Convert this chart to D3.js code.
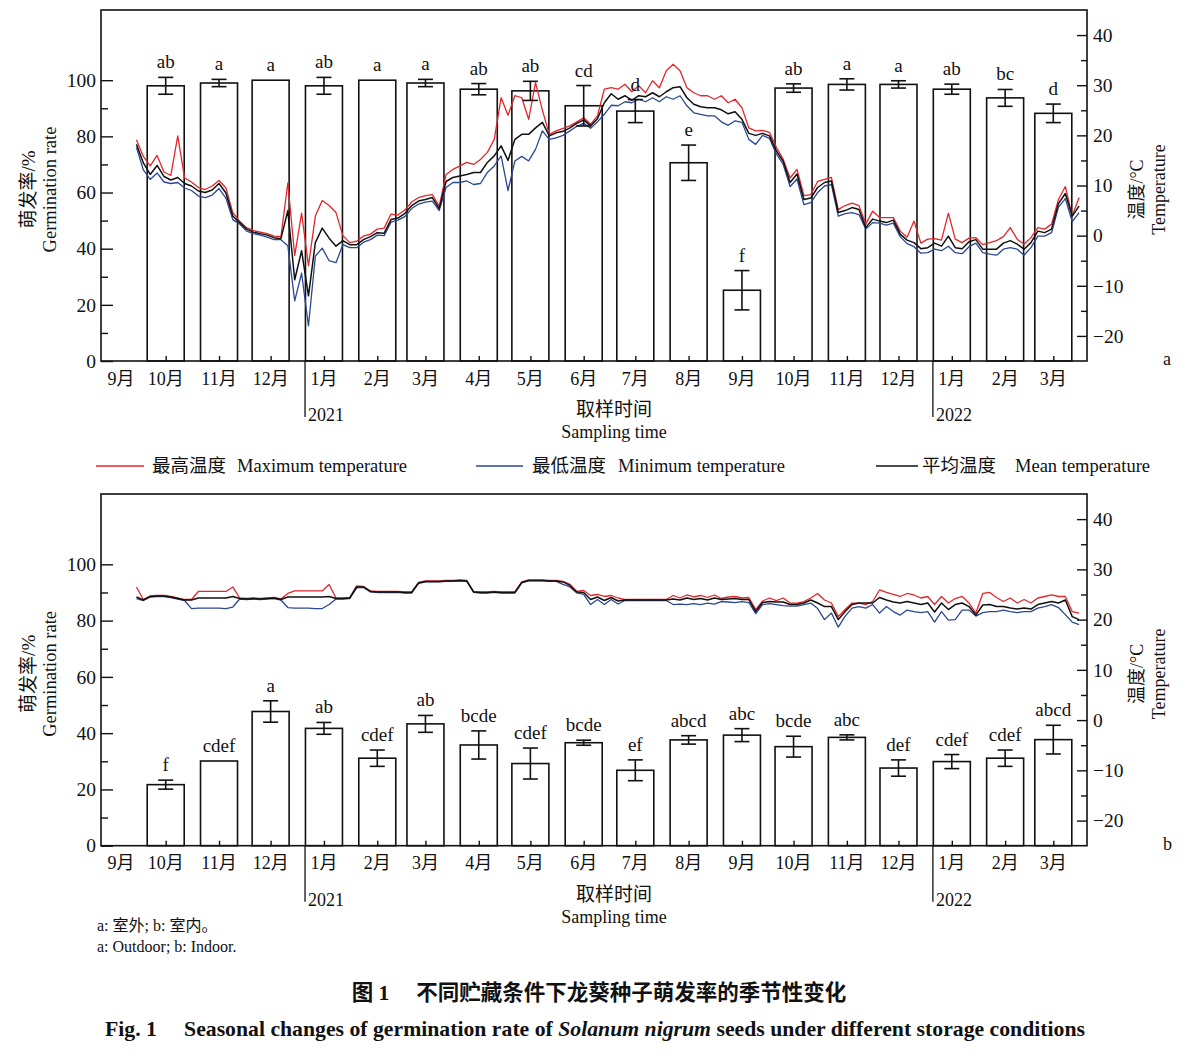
<!DOCTYPE html>
<html><head><meta charset="utf-8">
<script src="https://cdn.jsdelivr.net/npm/d3@7"></script>
<style>
body{margin:0;background:#fff}
svg text{font-family:"Liberation Serif","Times New Roman","Noto Sans CJK SC",serif;fill:#111}
</style>
</head><body>
<svg id="c" width="1194" height="1059"></svg>
<script>
// ---------------- data ----------------
const monthLabels = ["9月","10月","11月","12月","1月","2月","3月","4月","5月","6月","7月","8月","9月","10月","11月","12月","1月","2月","3月"];
const monthDates = ["2020-09-12","2020-10-12","2020-11-12","2020-12-12","2021-01-12","2021-02-12","2021-03-12","2021-04-12","2021-05-12","2021-06-12","2021-07-12","2021-08-12","2021-09-12","2021-10-12","2021-11-12","2021-12-12","2022-01-12","2022-02-12","2022-03-12"];
const sampleDates = monthDates.slice(1);

const outdoorMeans = [98.0,99.0,100,98.0,100,99.0,96.8,96.2,90.9,89.0,70.6,25.2,97.2,98.5,98.5,96.8,93.7,88.2];
const outdoorErr   = [3.0,1.3,0,3.0,0,1.3,2.0,3.4,7.2,4.1,6.3,7.0,1.5,2.0,1.3,1.8,3.0,3.3];
const outdoorLetters = ["ab","a","a","ab","a","a","ab","ab","cd","d","e","f","ab","a","a","ab","bc","d"];

const indoorMeans = [21.7,30.1,47.7,41.7,31.1,43.3,35.8,29.2,36.6,26.8,37.6,39.3,35.2,38.5,27.6,29.9,31.1,37.7];
const indoorErr   = [1.6,0,3.8,2.1,2.9,3.0,5.0,5.5,0.9,3.7,1.5,2.3,3.7,0.9,2.9,2.5,2.9,5.1];
const indoorLetters = ["f","cdef","a","ab","cdef","ab","bcde","cdef","bcde","ef","abcd","abc","bcde","abc","def","cdef","cdef","abcd"];

// temperature records: one value every 4 days from 2020-09-25
const tempStart = "2020-09-25";
const tempStepDays = 4;
const outdoorMax = [19.1,15.8,13.9,16.0,12.7,12.0,19.9,11.5,10.7,9.6,9.2,9.9,11.0,9.5,4.6,2.9,1.6,1.0,0.7,0.4,
 -0.1,-0.2,10.5,-4.0,4.5,-6.0,3.9,7.0,6.0,4.6,0.0,-1.4,-1.1,-0.1,0.3,1.3,1.5,4.3,4.1,5.1,
 6.7,7.6,8.0,8.2,5.9,12.2,13.2,13.9,14.6,14.2,15.2,16.6,19.2,27.5,24.0,27.9,27.5,23.2,30.5,25.0,
 20.2,20.9,21.4,21.9,22.7,23.5,22.2,23.9,29.2,29.5,29.2,30.2,28.7,29.9,28.5,30.9,29.5,32.9,34.2,32.9,
 29.5,28.5,27.9,27.9,27.2,27.9,26.5,27.2,25.5,21.5,20.9,21.0,20.6,17.6,15.2,11.5,13.2,8.0,8.2,10.8,
 11.2,11.6,5.2,6.0,6.5,6.0,2.3,4.9,3.6,3.6,3.6,0.9,-0.3,2.9,-1.5,-0.7,-0.6,-0.9,4.5,-0.7,
 -1.4,-0.5,-0.4,-1.8,-1.4,-1.0,-0.2,1.6,-0.7,-1.7,-0.4,1.6,1.3,2.3,7.2,9.8,3.9,7.6];
const outdoorMean = [18.2,14.5,12.2,14.0,11.8,11.1,11.6,10.4,9.9,8.9,8.6,9.1,10.4,8.5,3.9,2.6,1.3,0.7,0.4,0.1,
 -0.4,-0.6,5.0,-8.8,-3.0,-12.0,-1.4,1.5,-0.5,-2.1,-1.0,-1.8,-1.8,-0.8,-0.2,0.6,0.5,3.2,3.5,4.4,
 6.0,6.9,7.2,7.6,5.4,10.8,11.6,11.9,12.2,12.6,12.6,14.6,15.9,17.9,15.0,19.2,20.2,20.2,21.5,22.6,
 19.9,20.5,20.8,21.5,22.4,23.1,21.9,23.3,26.5,28.3,27.2,27.9,27.0,27.9,27.7,28.5,27.7,28.7,29.5,29.7,
 27.5,26.2,25.7,25.5,25.5,25.1,24.3,24.7,23.2,20.4,20.0,20.4,19.9,16.9,14.8,10.6,12.3,7.2,7.5,9.6,
 10.6,10.9,4.6,5.0,5.6,5.2,1.6,3.3,2.9,2.6,3.1,0.3,-0.9,-1.4,-2.6,-2.4,-1.5,-2.1,-0.1,-2.4,
 -2.6,-1.2,-0.8,-2.7,-2.7,-2.7,-1.5,-1.0,-1.7,-2.7,-1.4,0.9,0.6,1.3,6.4,8.4,3.9,5.9];
const outdoorMin = [17.6,13.1,11.2,12.5,10.7,10.4,10.6,9.5,9.0,7.9,7.6,8.1,9.4,7.5,3.2,2.3,0.9,0.4,0.1,-0.3,
 -0.8,-0.8,-2.0,-13.0,-7.5,-18.0,-4.1,-2.5,-5.0,-5.4,-1.8,-2.4,-2.4,-1.3,-0.8,0.1,0.0,2.7,3.1,3.8,
 5.4,6.3,6.7,6.9,5.0,9.6,10.6,10.6,10.9,10.2,10.4,12.6,13.9,15.9,9.0,14.9,15.8,14.9,17.2,20.9,
 19.2,19.5,20.0,20.9,21.8,22.4,21.4,22.7,24.2,26.0,25.9,26.7,26.5,27.2,26.7,27.5,26.7,27.7,27.2,27.9,
 25.9,24.5,24.2,23.9,23.9,22.7,22.0,22.9,22.6,19.2,18.2,20.0,19.4,16.3,14.2,9.8,11.3,6.2,6.6,8.6,
 9.9,10.2,3.9,4.4,4.6,4.2,1.3,2.6,2.5,2.1,2.5,-0.2,-1.6,-2.2,-3.5,-3.4,-2.7,-3.0,-2.1,-3.4,
 -3.6,-2.2,-1.5,-3.4,-3.7,-3.9,-2.7,-2.4,-2.7,-3.9,-2.4,-0.1,-0.1,0.6,5.7,7.4,2.8,4.6];

const indoorMax = [26.5,24.0,24.7,24.8,24.8,24.6,24.3,24.0,24.0,25.6,25.6,25.6,25.6,25.6,26.5,24.3,24.2,24.3,24.2,24.3,
 24.4,24.1,25.2,25.7,25.7,25.7,25.7,25.7,27.0,24.3,24.3,24.4,26.7,26.6,25.7,25.6,25.6,25.6,25.6,25.5,
 25.5,27.4,27.7,27.7,27.7,27.8,27.8,27.9,27.8,25.6,25.5,25.5,25.6,25.5,25.5,25.5,27.5,27.9,27.9,27.9,
 27.8,27.8,27.6,27.0,25.6,25.8,24.8,25.0,24.6,24.8,24.3,24.0,24.0,24.0,24.0,24.0,24.0,24.0,24.8,24.3,
 24.9,24.5,24.8,24.4,24.9,24.2,24.5,24.6,24.3,24.4,22.0,23.7,24.3,23.8,24.3,23.3,23.3,23.6,24.3,25.2,
 23.9,23.3,20.6,22.0,23.3,23.3,23.0,23.6,25.9,25.4,25.0,24.6,25.2,24.9,24.3,24.6,23.0,24.6,23.3,24.2,
 24.6,23.3,21.3,25.2,25.4,24.4,23.6,24.3,23.3,24.0,23.3,24.3,24.6,24.9,24.6,24.6,21.6,21.3];
const indoorMean = [24.5,23.9,24.6,24.7,24.7,24.5,24.2,23.9,23.9,24.3,24.3,24.3,24.3,24.3,24.6,24.2,24.1,24.2,24.1,24.2,
 24.3,24.0,24.5,24.5,24.5,24.5,24.5,24.5,24.6,24.2,24.2,24.3,26.5,26.5,25.6,25.5,25.5,25.5,25.5,25.4,
 25.4,27.3,27.6,27.6,27.6,27.7,27.7,27.8,27.7,25.5,25.4,25.4,25.5,25.4,25.4,25.4,27.4,27.8,27.8,27.8,
 27.7,27.7,27.5,26.8,25.5,25.4,24.0,24.5,23.8,24.4,23.7,23.9,23.9,23.9,23.9,23.9,23.9,23.9,24.1,23.9,
 24.3,24.0,24.2,23.9,24.3,24.0,24.1,24.2,24.0,24.0,21.6,23.4,23.6,23.5,23.5,23.0,23.0,23.3,23.9,23.3,
 22.6,22.6,20.0,21.6,23.0,23.3,23.3,23.3,24.4,23.9,23.5,23.3,23.6,23.3,23.0,23.3,21.5,23.3,22.0,23.0,
 23.3,22.6,20.9,22.9,23.0,22.6,22.6,22.3,22.1,22.3,22.1,23.0,23.3,23.6,23.3,23.9,20.6,20.0];
const indoorMin = [24.2,23.8,24.5,24.6,24.6,24.4,24.1,23.8,22.2,22.3,22.3,22.3,22.3,22.2,22.5,24.1,24.0,24.1,24.0,24.1,
 24.2,23.9,22.4,22.3,22.3,22.3,22.2,22.2,23.0,24.1,24.1,24.2,26.3,26.4,25.5,25.4,25.4,25.4,25.4,25.3,
 25.3,27.2,27.5,27.5,27.5,27.6,27.6,27.7,27.6,25.4,25.3,25.3,25.4,25.3,25.3,25.3,27.3,27.7,27.7,27.7,
 27.6,27.6,27.0,26.5,25.3,25.0,23.0,24.0,23.0,24.0,23.1,23.8,23.8,23.8,23.8,23.8,23.8,23.8,23.0,23.1,
 23.0,23.2,23.0,23.3,23.1,23.6,23.5,23.4,23.6,23.4,21.2,23.0,23.2,23.0,22.8,22.7,22.7,23.0,23.3,22.2,
 20.0,21.3,18.5,20.7,22.3,22.6,22.3,23.0,21.3,22.6,21.6,20.9,21.9,21.6,21.4,21.6,19.5,21.6,19.9,20.0,
 21.9,21.9,20.7,21.4,21.6,21.6,21.9,21.6,21.4,21.6,21.6,22.3,22.6,23.0,22.4,21.0,19.5,19.0];

const leftMajorTicks = [0,20,40,60,80,100];
const leftMinorTicks = [10,30,50,70,90];
const rightMajorTicks = [-20,-10,0,10,20,30,40];
const rightMinorTicks = [-15,-5,5,15,25,35];
const yearMarks = [{label:"2021", date:"2021-01-01"},{label:"2022", date:"2022-01-01"}];
const legendItems = [
  {zh:"最高温度", en:"Maximum temperature", color:"#e3262b"},
  {zh:"最低温度", en:"Minimum temperature", color:"#2b4795"},
  {zh:"平均温度", en:"Mean temperature", color:"#111111"}
];

// ---------------- drawing ----------------
const svg = d3.select("#c");
const parse = d3.timeParse("%Y-%m-%d");
const L = 101, R = 1087;
const x = d3.scaleTime().domain([parse("2020-10-12"), parse("2022-03-12")]).range([165.7, 1053.3]);
const t0 = parse(tempStart);
const tDate = i => d3.timeDay.offset(t0, i*tempStepDays);
const FONT = '"Liberation Serif","Times New Roman","Noto Sans CJK SC",serif';

const panels = [
  {id:"a", top:10, bottom:361, means:outdoorMeans, errs:outdoorErr, letters:outdoorLetters, tmax:outdoorMax, tmin:outdoorMin, tmean:outdoorMean},
  {id:"b", top:494, bottom:845.7, means:indoorMeans, errs:indoorErr, letters:indoorLetters, tmax:indoorMax, tmin:indoorMin, tmean:indoorMean}
];

panels.forEach((p, pi) => {
  const g = svg.append("g");
  const yL = d3.scaleLinear().domain([0,125]).range([p.bottom, p.top]);
  const yR = d3.scaleLinear().domain([-25,45]).range([p.bottom, p.top]);
  const clipId = "clip"+pi;
  svg.append("clipPath").attr("id", clipId).append("rect")
    .attr("x", L).attr("y", p.top).attr("width", R-L).attr("height", p.bottom-p.top);

  const barW = 37;
  const bars = sampleDates.map((d,i)=>({date:parse(d), m:p.means[i], e:p.errs[i], lab:p.letters[i]}));
  g.selectAll("rect.bar").data(bars).join("rect").attr("class","bar")
    .attr("x", d=>x(d.date)-barW/2).attr("width", barW)
    .attr("y", d=>yL(d.m)).attr("height", d=>p.bottom-yL(d.m))
    .attr("fill","#fff").attr("stroke","#111").attr("stroke-width",1.6);

  // temperature lines
  const series = [
    {vals:p.tmax, color:legendItems[0].color},
    {vals:p.tmin, color:legendItems[1].color},
    {vals:p.tmean, color:legendItems[2].color}
  ];
  const line = d3.line().x((v,i)=>x(tDate(i))).y(v=>yR(v));
  g.append("g").attr("clip-path", `url(#${clipId})`).selectAll("path").data(series).join("path")
    .attr("d", s=>line(s.vals)).attr("fill","none").attr("stroke", s=>s.color)
    .attr("stroke-width", (s,i)=> i===2 ? 1.5 : 1.3).attr("stroke-linejoin","round");

  // error bars
  const eg = g.append("g").attr("stroke","#111").attr("stroke-width",1.6);
  bars.filter(d=>d.e>0).forEach(d=>{
    const cx = x(d.date);
    eg.append("line").attr("x1",cx).attr("x2",cx).attr("y1",yL(d.m-d.e)).attr("y2",yL(d.m+d.e));
    eg.append("line").attr("x1",cx-7.5).attr("x2",cx+7.5).attr("y1",yL(d.m-d.e)).attr("y2",yL(d.m-d.e));
    eg.append("line").attr("x1",cx-7.5).attr("x2",cx+7.5).attr("y1",yL(d.m+d.e)).attr("y2",yL(d.m+d.e));
  });
  g.selectAll("text.lab").data(bars).join("text").attr("class","lab")
    .attr("x", d=>x(d.date)).attr("y", d=>yL(d.m+d.e)-9)
    .attr("text-anchor","middle").attr("font-size",19).text(d=>d.lab);

  // frame
  g.append("rect").attr("x",L).attr("y",p.top).attr("width",R-L).attr("height",p.bottom-p.top)
    .attr("fill","none").attr("stroke","#111").attr("stroke-width",1.6);

  // left axis
  const la = g.append("g").attr("transform",`translate(${L},0)`)
    .call(d3.axisLeft(yL).tickValues(leftMajorTicks).tickSize(-12).tickPadding(5).tickSizeOuter(0));
  const lm = g.append("g").attr("transform",`translate(${L},0)`)
    .call(d3.axisLeft(yL).tickValues(leftMinorTicks).tickSize(-7).tickFormat("").tickSizeOuter(0));
  // right axis
  const ra = g.append("g").attr("transform",`translate(${R},0)`)
    .call(d3.axisRight(yR).tickValues(rightMajorTicks).tickSize(-10).tickPadding(6).tickSizeOuter(0));
  const rm = g.append("g").attr("transform",`translate(${R},0)`)
    .call(d3.axisRight(yR).tickValues(rightMinorTicks).tickSize(-6).tickFormat("").tickSizeOuter(0));
  // x ticks
  const xa = g.append("g").attr("transform",`translate(0,${p.bottom})`)
    .call(d3.axisBottom(x).tickValues(sampleDates.map(parse)).tickSize(-5).tickFormat("").tickSizeOuter(0));
  [la,lm,ra,rm,xa].forEach(a=>{
    a.select(".domain").remove();
    a.selectAll("line").attr("stroke","#111").attr("stroke-width",1.4);
    a.selectAll("text").attr("font-family",FONT).attr("font-size",19.5).attr("fill","#111");
  });

  // month labels
  g.selectAll("text.mon").data(monthLabels).join("text").attr("class","mon")
    .attr("x",(d,i)=>x(parse(monthDates[i])) + (i===0 ? 7 : 0))
    .attr("y", p.bottom+23.5).attr("text-anchor","middle").attr("font-size",18).text(d=>d);

  // year marks
  yearMarks.forEach(ym=>{
    const yx = x(parse(ym.date));
    g.append("line").attr("x1",yx).attr("x2",yx).attr("y1",p.bottom).attr("y2",p.bottom+56)
      .attr("stroke","#111").attr("stroke-width",1.3);
    g.append("text").attr("x",yx+3).attr("y",p.bottom+60).attr("font-size",18).text(ym.label);
  });

  // axis titles
  const cy = (p.top+p.bottom)/2 + 4;
  g.append("text").attr("transform",`translate(35,${cy}) rotate(-90)`).attr("text-anchor","middle")
    .attr("font-size",19).text("萌发率/%");
  g.append("text").attr("transform",`translate(56,${cy}) rotate(-90)`).attr("text-anchor","middle")
    .attr("font-size",18.5).text("Germination rate");
  g.append("text").attr("transform",`translate(1143,${cy}) rotate(-90)`).attr("text-anchor","middle")
    .attr("font-size",18).text("温度/°C");
  g.append("text").attr("transform",`translate(1165,${cy}) rotate(-90)`).attr("text-anchor","middle")
    .attr("font-size",18).text("Temperature");

  g.append("text").attr("x",614).attr("y",p.bottom+55).attr("text-anchor","middle").attr("font-size",19).text("取样时间");
  g.append("text").attr("x",614).attr("y",p.bottom+77).attr("text-anchor","middle").attr("font-size",18).text("Sampling time");
  g.append("text").attr("x",1163).attr("y",p.bottom+4).attr("font-size",18).text(p.id);
});

// legend (layout: line start/end, Chinese text x, English text x)
const legendLayout = [
  {x1:96, x2:144, zx:152, ex:237},
  {x1:476, x2:523, zx:532, ex:618},
  {x1:876, x2:918, zx:922, ex:1015}
];
const lg = svg.append("g");
legendItems.forEach((it,i)=>{
  const lo = legendLayout[i];
  lg.append("line").attr("x1",lo.x1).attr("x2",lo.x2).attr("y1",466).attr("y2",466)
    .attr("stroke",it.color).attr("stroke-width",1.3);
  lg.append("text").attr("x",lo.zx).attr("y",472).attr("font-size",18.5).text(it.zh);
  lg.append("text").attr("x",lo.ex).attr("y",472).attr("font-size",18.5).text(it.en);
});

// notes and caption
svg.append("text").attr("x",97).attr("y",931).attr("font-size",16).text("a: 室外; b: 室内。");
svg.append("text").attr("x",97).attr("y",952).attr("font-size",16).text("a: Outdoor; b: Indoor.");
svg.append("text").attr("x",599).attr("y",1000).attr("text-anchor","middle").attr("font-size",21.5)
  .attr("font-weight",700).attr("font-family",'"Noto Sans CJK SC",sans-serif')
  .text("图 1\u2003 不同贮藏条件下龙葵种子萌发率的季节性变化");
const cap = svg.append("text").attr("x",595).attr("y",1036).attr("text-anchor","middle")
  .attr("font-size",21.5).attr("font-weight",700)
  .attr("textLength",980).attr("lengthAdjust","spacingAndGlyphs");
cap.append("tspan").text("Fig. 1\u2003 Seasonal changes of germination rate of ");
cap.append("tspan").attr("font-style","italic").text("Solanum nigrum");
cap.append("tspan").text(" seeds under different storage conditions");
</script>
</body></html>
